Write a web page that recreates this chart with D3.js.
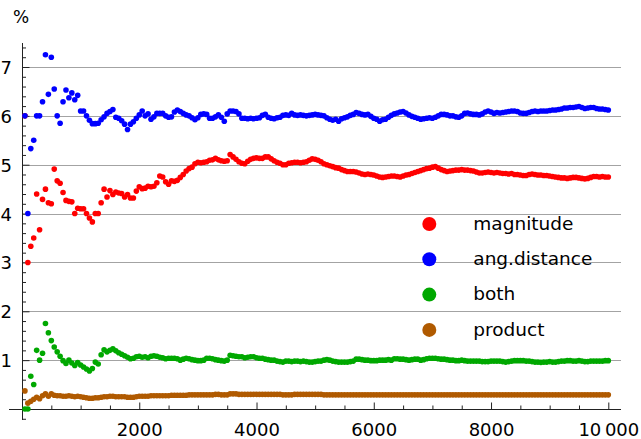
<!DOCTYPE html>
<html>
<head>
<meta charset="utf-8">
<script src="https://cdn.jsdelivr.net/npm/d3@7"></script>
<style>
  body { margin: 0; background: #fff; }
  svg { display: block; }
  text { font-family: "DejaVu Sans", sans-serif; fill: #000; }
</style>
</head>
<body>
<svg id="chart" width="641" height="439"></svg>
<script>
// Number of trials at each sample (every 50 up to 10 000)
const trials = d3.range(50, 10001, 50);

// Failure rates in percent for each matching criterion
const magnitude = [
  6.0, 3.0, 3.33, 3.5, 4.4, 3.67, 4.29, 4.5, 4.22, 4.2,
  4.91, 4.67, 4.62, 4.43, 4.27, 4.25, 4.24, 4.0, 4.11, 4.1,
  4.1, 4.0, 3.91, 3.83, 4.0, 4.0, 4.22, 4.5, 4.34, 4.47,
  4.39, 4.44, 4.42, 4.41, 4.34, 4.39, 4.32, 4.32, 4.46, 4.55,
  4.51, 4.52, 4.56, 4.55, 4.56, 4.63, 4.77, 4.75, 4.65, 4.6,
  4.67, 4.66, 4.68, 4.74, 4.8, 4.87, 4.92, 4.95, 5.02, 5.05,
  5.04, 5.05, 5.06, 5.09, 5.1, 5.13, 5.1, 5.08, 5.07, 5.08,
  5.21, 5.16, 5.11, 5.06, 5.03, 5.02, 5.07, 5.11, 5.13, 5.14,
  5.13, 5.13, 5.16, 5.16, 5.12, 5.08, 5.05, 5.03, 5.0, 5.0,
  5.03, 5.04, 5.05, 5.05, 5.04, 5.05, 5.06, 5.09, 5.12, 5.11,
  5.09, 5.06, 5.02, 5.0, 4.98, 4.96, 4.94, 4.93, 4.9, 4.88,
  4.86, 4.86, 4.86, 4.85, 4.83, 4.81, 4.8, 4.81, 4.8, 4.79,
  4.77, 4.75, 4.74, 4.75, 4.76, 4.77, 4.77, 4.76, 4.75, 4.77,
  4.79, 4.8, 4.82, 4.84, 4.86, 4.88, 4.9, 4.92, 4.93, 4.95,
  4.96, 4.93, 4.9, 4.88, 4.86, 4.87, 4.88, 4.89, 4.89, 4.9,
  4.89, 4.89, 4.88, 4.87, 4.85, 4.83, 4.83, 4.84, 4.85, 4.84,
  4.83, 4.84, 4.83, 4.82, 4.82, 4.81, 4.82, 4.8, 4.8, 4.79,
  4.78, 4.78, 4.8, 4.81, 4.8, 4.79, 4.79, 4.78, 4.78, 4.77,
  4.76, 4.75, 4.74, 4.73, 4.73, 4.72, 4.73, 4.74, 4.74, 4.73,
  4.72, 4.71, 4.72, 4.74, 4.76, 4.76, 4.75, 4.76, 4.75, 4.75
];

const angDistance = [
  6.0, 4.0, 5.33, 5.5, 6.0, 6.0, 6.29, 7.25, 6.44, 7.2,
  6.55, 6.0, 5.85, 6.29, 6.53, 6.37, 6.47, 6.33, 6.42, 6.1,
  6.1, 6.0, 5.91, 5.84, 5.84, 5.85, 5.92, 5.98, 6.05, 6.09,
  6.13, 5.97, 5.95, 5.9, 5.83, 5.72, 5.83, 5.88, 5.95, 6.02,
  6.1, 6.0, 6.04, 5.93, 5.98, 6.05, 6.05, 6.05, 6.0, 5.97,
  5.98, 6.08, 6.12, 6.09, 6.05, 6.02, 6.0, 5.96, 5.92, 5.96,
  6.03, 6.04, 6.03, 5.95, 5.95, 5.98, 6.02, 5.97, 5.89, 6.04,
  6.1, 6.1, 6.09, 6.04, 5.95, 5.95, 5.94, 5.95, 5.94, 5.95,
  5.96, 6.01, 6.03, 5.97, 5.95, 5.94, 5.96, 5.97, 6.01, 6.02,
  6.01, 6.05, 6.02, 6.01, 6.02, 6.01, 6.0, 6.01, 6.02, 6.03,
  6.02, 6.01, 6.0, 5.96, 5.93, 5.91, 5.93, 5.89, 5.94, 5.96,
  5.98, 6.01, 6.03, 6.07, 6.05, 6.03, 6.02, 6.03, 5.99, 5.95,
  5.93, 5.89, 5.92, 5.93, 5.97, 6.01, 6.04, 6.06, 6.08, 6.09,
  6.06, 6.02, 5.99, 5.97, 5.95, 5.93, 5.94, 5.95, 5.96, 5.95,
  5.97, 6.0, 6.03, 6.03, 6.02, 6.0, 6.0, 5.98, 5.97, 6.0,
  6.05, 6.06, 6.04, 6.03, 6.03, 6.02, 6.04, 6.08, 6.1, 6.08,
  6.05, 6.07, 6.06, 6.07, 6.08, 6.09, 6.1, 6.1, 6.09, 6.06,
  6.05, 6.05, 6.07, 6.09, 6.1, 6.09, 6.1, 6.1, 6.1, 6.11,
  6.12, 6.12, 6.13, 6.14, 6.16, 6.16, 6.17, 6.17, 6.18, 6.19,
  6.17, 6.15, 6.16, 6.17, 6.17, 6.15, 6.14, 6.14, 6.13, 6.12
];

const both = [
  0, 0, 0.67, 0.5, 1.2, 1.0, 1.14, 1.75, 1.56, 1.4,
  1.27, 1.17, 1.08, 0.99, 0.93, 1.0, 0.94, 0.89, 0.95, 0.9,
  0.86, 0.82, 0.78, 0.83, 0.96, 0.92, 1.11, 1.21, 1.17, 1.2,
  1.23, 1.19, 1.15, 1.12, 1.09, 1.06, 1.03, 1.04, 1.07, 1.08,
  1.06, 1.07, 1.05, 1.08, 1.09, 1.08, 1.06, 1.05, 1.03, 1.04,
  1.04, 1.04, 1.03, 1.0, 1.02, 1.04, 1.03, 1.01, 1.0, 0.99,
  0.99, 1.0, 1.04, 1.04, 1.03, 1.01, 1.0, 0.99, 0.98, 1.0,
  1.1, 1.09, 1.08, 1.07, 1.07, 1.05, 1.06, 1.07, 1.07, 1.05,
  1.04, 1.04, 1.02, 1.01, 1.0, 1.0, 0.98, 0.97, 0.96, 0.98,
  0.98, 0.97, 0.98, 0.98, 0.97, 0.98, 0.97, 0.96, 0.96, 0.97,
  0.98, 0.98, 1.0, 1.01, 1.0, 0.98, 0.97, 0.96, 0.96, 0.96,
  0.96, 0.97, 0.98, 1.02, 1.02, 1.01, 1.0, 1.0, 0.99, 0.99,
  0.99, 1.0, 1.0, 1.0, 1.01, 1.0, 1.03, 1.03, 1.02, 1.02,
  1.01, 1.0, 1.01, 1.02, 1.02, 1.0, 1.01, 1.03, 1.04, 1.04,
  1.04, 1.03, 1.02, 1.02, 1.01, 1.0, 1.0, 0.99, 0.99, 1.0,
  0.99, 0.98, 0.98, 0.98, 0.98, 0.98, 0.97, 0.97, 0.97, 0.98,
  0.98, 0.98, 0.98, 0.97, 0.96, 0.97, 0.98, 0.99, 0.99, 0.99,
  0.99, 0.98, 0.98, 0.97, 0.96, 0.96, 0.955, 0.96, 0.96, 0.97,
  0.96, 0.96, 0.97, 0.98, 0.98, 0.99, 0.99, 0.98, 0.98, 0.99,
  0.98, 0.97, 0.97, 0.98, 0.98, 0.98, 0.98, 0.98, 0.99, 0.99
];

const product = [
  0.37, 0.12, 0.16, 0.2, 0.24, 0.21, 0.27, 0.31, 0.26, 0.31,
  0.28, 0.27, 0.27, 0.26, 0.26, 0.27, 0.26, 0.25, 0.26, 0.25,
  0.24, 0.23, 0.22, 0.22, 0.23, 0.23, 0.24, 0.25, 0.25, 0.26,
  0.26, 0.25, 0.25, 0.25, 0.25, 0.24, 0.24, 0.24, 0.25, 0.26,
  0.26, 0.26, 0.26, 0.27, 0.27, 0.27, 0.27, 0.27, 0.27, 0.27,
  0.28, 0.28, 0.28, 0.28, 0.28, 0.28, 0.29, 0.29, 0.29, 0.29,
  0.29, 0.29, 0.29, 0.29, 0.29, 0.3, 0.3, 0.29, 0.29, 0.29,
  0.31, 0.31, 0.31, 0.3, 0.3, 0.3, 0.3, 0.3, 0.3, 0.3,
  0.3, 0.3, 0.3, 0.3, 0.3, 0.3, 0.3, 0.3, 0.29, 0.29,
  0.29, 0.29, 0.3, 0.3, 0.3, 0.3, 0.3, 0.3, 0.3, 0.3,
  0.3, 0.3, 0.29, 0.29, 0.29, 0.29, 0.29, 0.29, 0.29, 0.29,
  0.29, 0.29, 0.29, 0.29, 0.29, 0.29, 0.29, 0.29, 0.29, 0.29,
  0.29, 0.29, 0.29, 0.29, 0.29, 0.29, 0.29, 0.29, 0.29, 0.29,
  0.29, 0.29, 0.29, 0.29, 0.29, 0.29, 0.29, 0.29, 0.29, 0.29,
  0.29, 0.29, 0.29, 0.29, 0.29, 0.29, 0.29, 0.29, 0.29, 0.29,
  0.29, 0.29, 0.29, 0.29, 0.29, 0.29, 0.29, 0.29, 0.29, 0.29,
  0.29, 0.29, 0.29, 0.29, 0.29, 0.29, 0.29, 0.29, 0.29, 0.29,
  0.29, 0.29, 0.29, 0.29, 0.29, 0.29, 0.29, 0.29, 0.29, 0.29,
  0.29, 0.29, 0.29, 0.29, 0.29, 0.29, 0.29, 0.29, 0.29, 0.29,
  0.29, 0.29, 0.29, 0.29, 0.29, 0.29, 0.29, 0.29, 0.29, 0.29
];

const seriesNames = ["magnitude", "ang.distance", "both", "product"];
const seriesColors = ["#ff0000", "#0000ff", "#00a800", "#b05a00"];
const seriesValues = [magnitude, angDistance, both, product];

const xMajorTicks = [2000, 4000, 6000, 8000, 10000];
const yMajorTicks = [1, 2, 3, 4, 5, 6, 7];
const yUnit = "%";

const svg = d3.select("#chart");

const x = d3.scaleLinear().domain([0, 10000]).range([22, 608.3]);
const y = d3.scaleLinear().domain([0, 7]).range([409, 67]);
const xMin = x.invert(9), xMax = x.invert(621);
const yMin = y.invert(420), yMax = y.invert(43);

// horizontal grid lines
svg.append("g")
  .selectAll("line")
  .data(yMajorTicks)
  .join("line")
  .attr("x1", x(0)).attr("x2", x(xMax))
  .attr("y1", d => Math.round(y(d)) + 0.5).attr("y2", d => Math.round(y(d)) + 0.5)
  .attr("stroke", "#a3a3a3").attr("stroke-width", 1);

// axis lines through the origin
const axisColor = "#222";
svg.append("line")
  .attr("x1", x(xMin)).attr("x2", x(xMax))
  .attr("y1", Math.round(y(0)) + 0.5).attr("y2", Math.round(y(0)) + 0.5)
  .attr("stroke", axisColor);
svg.append("line")
  .attr("x1", Math.round(x(0)) + 0.5).attr("x2", Math.round(x(0)) + 0.5)
  .attr("y1", y(yMin)).attr("y2", y(yMax))
  .attr("stroke", axisColor);

function styleTicks(g) {
  g.select(".domain").remove();
  g.selectAll(".tick line").attr("stroke", axisColor);
}

// y ticks point into the plot
const yMinorVals = d3.range(-1, 38).map(i => i * 0.2).filter(v => Math.abs(v - Math.round(v)) > 1e-6);
svg.append("g")
  .attr("transform", `translate(${Math.round(x(0)) + 0.5},0)`)
  .call(d3.axisRight(y).tickValues(yMinorVals).tickSize(3.5).tickFormat(""))
  .call(styleTicks);
svg.append("g")
  .attr("transform", `translate(${Math.round(x(0)) + 0.5},0)`)
  .call(d3.axisRight(y).tickValues(yMajorTicks).tickSize(7).tickFormat(""))
  .call(styleTicks);
const yLab = svg.append("g")
  .attr("transform", `translate(${x(0)},0)`)
  .call(d3.axisLeft(y).tickValues(yMajorTicks).tickSize(0).tickPadding(10).tickFormat(d3.format("d")));
yLab.select(".domain").remove();
yLab.selectAll("text").attr("font-size", 18).attr("dy", "0.36em").attr("font-family", "DejaVu Sans");

// x ticks point up into the plot
const xMinorVals = d3.range(500, 10001, 500).filter(v => v % 2000 !== 0);
svg.append("g")
  .attr("transform", `translate(0,${Math.round(y(0)) + 0.5})`)
  .call(d3.axisTop(x).tickValues(xMinorVals).tickSize(4).tickFormat(""))
  .call(styleTicks);
svg.append("g")
  .attr("transform", `translate(0,${Math.round(y(0)) + 0.5})`)
  .call(d3.axisTop(x).tickValues(xMajorTicks).tickSize(7).tickFormat(""))
  .call(styleTicks);
const fmtX = d => d < 10000 ? String(d) : d3.format(",")(d).replace(/,/g, "\u2009");
const xLab = svg.append("g")
  .attr("transform", `translate(0,${y(0)})`)
  .call(d3.axisBottom(x).tickValues(xMajorTicks).tickSize(0).tickPadding(14).tickFormat(fmtX));
xLab.select(".domain").remove();
xLab.selectAll("text").attr("font-size", 18).attr("font-family", "DejaVu Sans");

// unit label above the y axis
svg.append("text")
  .attr("x", 13).attr("y", 23)
  .attr("font-size", 17)
  .text(yUnit);

// data points, one layer per series
seriesValues.forEach((vals, i) => {
  svg.append("g")
    .attr("fill", seriesColors[i])
    .selectAll("circle")
    .data(vals)
    .join("circle")
    .attr("cx", (d, j) => x(trials[j]))
    .attr("cy", d => y(d))
    .attr("r", 2.8);
});

// legend
const legend = svg.append("g").attr("transform", "translate(429.3,224)");
seriesNames.forEach((name, i) => {
  const row = legend.append("g").attr("transform", `translate(0,${i * 35.3})`);
  row.append("circle").attr("r", 7).attr("fill", seriesColors[i]);
  row.append("text").attr("x", 44).attr("y", 5.6).attr("font-size", 18.5).text(name);
});
</script>
</body>
</html>
